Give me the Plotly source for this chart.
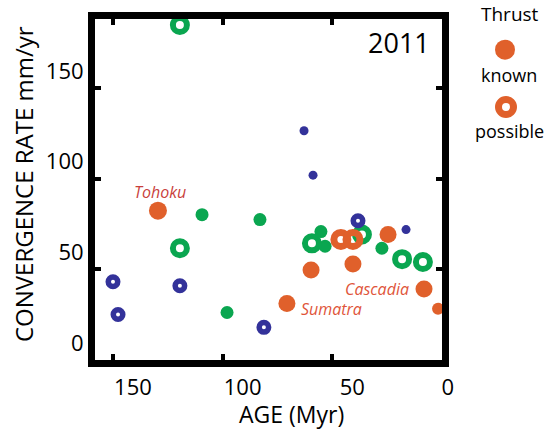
import plotly.graph_objects as go

# Plate age (Myr) and convergence rate (mm/yr) for subduction zones,
# grouped by marker style.
possible_green_age = [119.5, 119.5, 59.3, 36.5, 18.2, 8.7]
possible_green_rate = [184.7, 61.6, 64.3, 69.2, 55.6, 54.0]

green_age = [109.4, 83.0, 98.0, 55.2, 53.3, 27.4]
green_rate = [80.1, 77.4, 26.2, 70.8, 62.7, 61.6]

blue_ring_age = [150.0, 119.5, 147.7, 81.2, 38.3]
blue_ring_rate = [43.1, 40.9, 25.1, 18.0, 76.8]

blue_dot_age = [62.9, 58.8, 16.4]
blue_dot_rate = [126.4, 101.9, 71.9]

known_age = [129.5, 70.7, 59.7, 40.6, 24.6, 8.2, 1.8]
known_rate = [82.3, 31.1, 49.6, 52.9, 69.2, 39.2, 28.3]
known_names = ["Tohoku", "Sumatra", "", "", "", "Cascadia", ""]

possible_age = [46.1, 40.6]
possible_rate = [66.5, 66.5]

x_ticks = [150, 100, 50, 0]
x_tick_text = ["150", "100", "50", "0" + "\u00a0" * 5]
y_ticks = [0, 50, 100, 150]
y_tick_text = ["0", "50", "100", "150"]

ORANGE = "#E0602B"
GREEN = "#0AA650"
BLUE = "#33329A"
FONT = "Open Sans"

W, H = 546, 429
L, R, T, B = 95, 104, 15, 69
pw, ph = W - L - R, H - T - B


def px_x(p):
    return (p - L) / pw


def px_y(p):
    return (H - B - p) / ph


fig = go.Figure()

fig.add_trace(go.Scatter(
    x=possible_green_age, y=possible_green_rate, mode="markers",
    marker=dict(symbol="circle-open", size=14, color=GREEN, opacity=1,
                line=dict(width=6, color=GREEN)),
    hoverinfo="skip"))
fig.add_trace(go.Scatter(
    x=green_age, y=green_rate, mode="markers",
    marker=dict(symbol="circle", size=13, color=GREEN, opacity=1,
                line=dict(width=0)),
    hoverinfo="skip"))
fig.add_trace(go.Scatter(
    x=blue_ring_age, y=blue_ring_rate, mode="markers",
    marker=dict(symbol="circle-open", size=9.5, color=BLUE, opacity=1,
                line=dict(width=5.5, color=BLUE)),
    hoverinfo="skip"))
fig.add_trace(go.Scatter(
    x=blue_dot_age, y=blue_dot_rate, mode="markers",
    marker=dict(symbol="circle", size=9, color=BLUE, opacity=1,
                line=dict(width=0)),
    hoverinfo="skip"))
fig.add_trace(go.Scatter(
    x=possible_age, y=possible_rate, mode="markers",
    marker=dict(symbol="circle-open", size=14, color=ORANGE, opacity=1,
                line=dict(width=7, color=ORANGE)),
    hoverinfo="skip"))
known_sizes = [18, 17, 17, 17, 17, 17, 12]
fig.add_trace(go.Scatter(
    x=known_age, y=known_rate, mode="markers",
    marker=dict(symbol="circle", size=known_sizes, color=ORANGE, opacity=1,
                line=dict(width=0)),
    hoverinfo="skip"))

# Names of the notable events, placed beside their markers
name_offsets = {"Tohoku": (2, 19, "#C93F3C"),
                "Sumatra": (45, -5, "#E0553A"),
                "Cascadia": (-47, 0, "#E0553A")}
for age, rate, name in zip(known_age, known_rate, known_names):
    if not name:
        continue
    dx, dy, col = name_offsets[name]
    fig.add_annotation(x=age, y=rate, xref="x", yref="y", text=f"<i>{name}</i>",
                       showarrow=False, xshift=dx, yshift=dy,
                       xanchor="center", yanchor="middle",
                       font=dict(family=FONT, size=16, color=col))

axis_common = dict(
    showline=True, linecolor="black", linewidth=7, mirror="ticks",
    ticks="inside", ticklen=6, tickwidth=4, tickcolor="black",
    showgrid=False, zeroline=False,
    tickfont=dict(family=FONT, size=22, color="black"),
)

fig.update_xaxes(range=[158.2, 0], tickvals=x_ticks, ticktext=x_tick_text,
                 ticklabelshift=-20, ticklabelstandoff=2, **axis_common)
fig.update_yaxes(range=[0, 188], tickvals=y_ticks, ticktext=y_tick_text,
                 ticklabelshift=-17, **axis_common)


def paper_text(text, x, y, size, angle=0):
    fig.add_annotation(x=px_x(x), y=px_y(y), xref="paper", yref="paper",
                       text=text, textangle=angle, showarrow=False,
                       xanchor="center", yanchor="middle",
                       font=dict(family=FONT, size=size, color="black"))


# Year tag and axis titles
paper_text("2011", 399, 39, 27)
paper_text("CONVERGENCE RATE mm/yr", 23, 182, 24, angle=-90)
paper_text("AGE (Myr)", 291, 415, 23)

# Key for thrust symbols on the right
paper_text("Thrust", 510, 10, 19)
paper_text("known", 509, 72, 18)
paper_text("possible", 509, 128, 18)
fig.add_shape(type="circle", xref="paper", yref="paper",
              xsizemode="pixel", ysizemode="pixel",
              xanchor=px_x(505), yanchor=px_y(46),
              x0=-10, x1=10, y0=-10, y1=10,
              fillcolor=ORANGE, line=dict(width=0))
fig.add_shape(type="circle", xref="paper", yref="paper",
              xsizemode="pixel", ysizemode="pixel",
              xanchor=px_x(506), yanchor=px_y(104),
              x0=-7.5, x1=7.5, y0=-7.5, y1=7.5,
              fillcolor="white", line=dict(width=7, color=ORANGE))

fig.update_layout(
    width=W, height=H, autosize=False,
    margin=dict(l=L, r=R, t=T, b=B, pad=0),
    paper_bgcolor="white", plot_bgcolor="white",
    showlegend=False,
)

fig.write_html("out.html")
